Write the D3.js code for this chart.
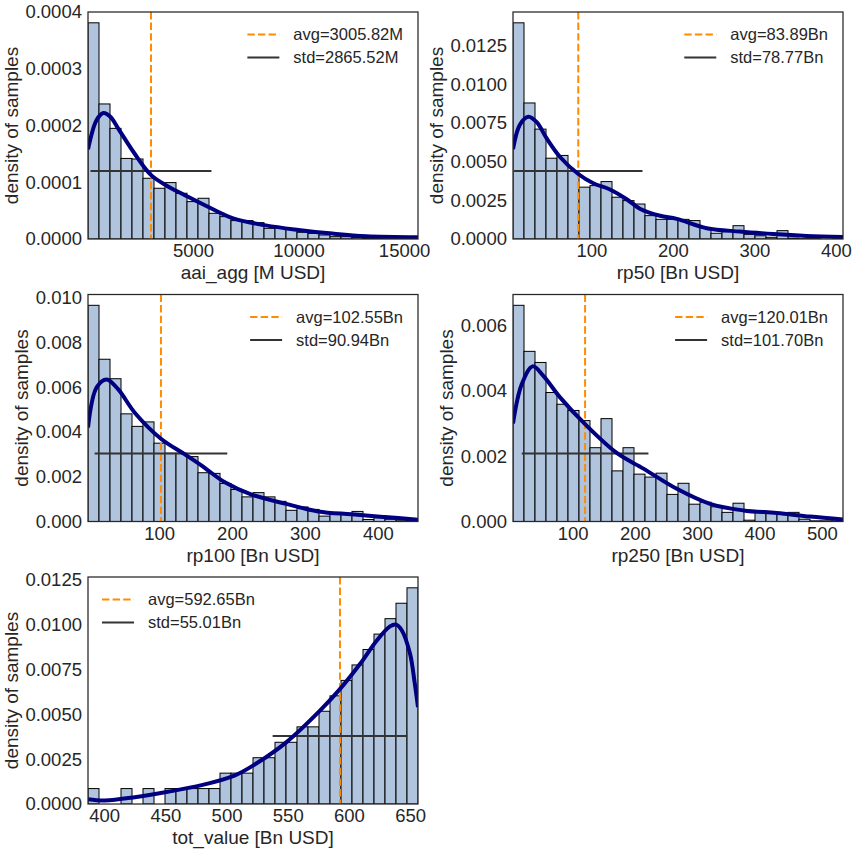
<!DOCTYPE html>
<html>
<head>
<meta charset="utf-8">
<script src="https://cdn.jsdelivr.net/npm/d3@7"></script>
<style>
  body { margin: 0; background: #fff; }
  svg { display: block; }
  text { font-family: "Liberation Sans", Arial, sans-serif; fill: #262626; }
</style>
</head>
<body>
<div id="chart"></div>
<script>
// ---- data ----
const axisLabels = ["aai_agg [M USD]", "rp50 [Bn USD]", "rp100 [Bn USD]", "rp250 [Bn USD]", "tot_value [Bn USD]"];
const xRanges = [[20, 15660], [3.8, 408.7], [2.5, 455], [4.3, 534], [386.8, 656.4]];
const avgValues = [3005.82, 83.89, 102.55, 120.01, 592.65];
const stdValues = [2865.52, 78.77, 90.94, 101.70, 55.01];
const valueUnits = ["M", "Bn", "Bn", "Bn", "Bn"];
const legendCorner = ["right", "right", "right", "right", "left"];

const aaiBars = [0.000381, 0.000238, 0.000195, 0.000142, 0.000141, 0.000107, 0.0000894, 0.0000994, 0.0000806, 0.0000659,
  0.0000718, 0.0000453, 0.0000394, 0.0000324, 0.0000324, 0.0000288, 0.0000188, 0.00002, 0.0000176, 0.0000118,
  0.00001, 0.0000071, 0.0000041, 0.0000041, 0.0000029, 0.0000018, 0.0000018, 0.0000018, 0.0000012, 0.0000012];
const rp50Bars = [0.01397, 0.00879, 0.0071, 0.00522, 0.0054, 0.0044, 0.00335, 0.00345, 0.00371, 0.0027,
  0.00248, 0.00226, 0.00151, 0.00127, 0.00127, 0.00127, 0.00119, 0.00073, 0.00037, 0.00058,
  0.00086, 0.0003, 0.00021, 0.00011, 0.00054, 0.00006, 0.00002, 0.00002, 0, 0.00002];
const rp100Bars = [0.00966, 0.00725, 0.00638, 0.00481, 0.00425, 0.00445, 0.0035, 0.00305, 0.00305, 0.0029,
  0.00218, 0.00215, 0.0017, 0.00143, 0.0011, 0.00129, 0.0011, 0.0009, 0.0005, 0.00065,
  0.00054, 0.00024, 0.00032, 0.00032, 0.00045, 0.00009, 0.00017, 0.0001, 0.00006, 0.000045];
const rp250Bars = [0.00662, 0.00521, 0.00487, 0.00395, 0.00359, 0.0034, 0.00309, 0.00226, 0.00315, 0.00155,
  0.00226, 0.00145, 0.00136, 0.00148, 0.00083, 0.00117, 0.00053, 0.00059, 0.00045, 0.00028,
  0.00056, 0.00004, 0.00033, 0.00025, 0.00023, 0.00028, 0.00007, 0.00002, 0.00002, 0.00002];
const totBars = [0.00086, 0, 0, 0.00086, 0, 0.00086, 0, 0.00086, 0.00086, 0.00086,
  0.00086, 0.00086, 0.00172, 0.00172, 0.00172, 0.00258, 0.00258, 0.00344, 0.00344, 0.0043,
  0.0043, 0.00517, 0.00603, 0.00689, 0.00775, 0.00861, 0.00947, 0.01033, 0.01119, 0.01205];

const aaiKde = [[20, 0.000158], [434, 0.00021], [750, 0.000222], [1066, 0.000216], [1500, 0.000192], [2200, 0.000152],
  [3000, 0.000113], [3750, 0.000094], [4700, 0.0000755], [5800, 0.000055], [6900, 0.0000365], [8450, 0.000024],
  [10000, 0.000016], [11600, 0.0000095], [13200, 0.0000047], [15660, 0.000003]];
const rp50Kde = [[3.8, 0.0058], [12.4, 0.0074], [22.6, 0.0079], [32.9, 0.00755], [45.1, 0.0065], [61.5, 0.0053],
  [83.9, 0.0042], [102.3, 0.0036], [122.8, 0.0032], [143.3, 0.00257], [160, 0.00194], [184.2, 0.0015],
  [204.7, 0.0013], [241.5, 0.0007], [282, 0.00048], [323, 0.00032], [364, 0.0002], [408.7, 0.00013]];
const rp100Kde = [[2.5, 0.0042], [14.4, 0.006], [28.1, 0.00635], [44, 0.0059], [66.9, 0.00485], [102.5, 0.0037],
  [135.4, 0.003], [158.3, 0.0025], [190.2, 0.00175], [226.8, 0.0012], [272.5, 0.0008], [318.1, 0.00045],
  [363.9, 0.00032], [409.5, 0.0002], [455, 0.00008]];
const rp250Kde = [[4.3, 0.003], [18.3, 0.0042], [35.9, 0.00475], [53, 0.00446], [79.8, 0.0038], [120, 0.00298],
  [170.8, 0.0021], [213.6, 0.00162], [267.2, 0.001], [320.6, 0.00054], [374, 0.00034], [427.7, 0.00026],
  [481, 0.00015], [534, 0.00006]];
const totKde = [[386.8, 0.00027], [400.6, 0.0002], [425, 0.00038], [452, 0.00068], [479.6, 0.00105], [506.9, 0.0016],
  [523, 0.0022], [549, 0.00345], [576.3, 0.0052], [592.6, 0.0064], [609, 0.0078], [622.6, 0.0091],
  [633.5, 0.0099], [638.5, 0.01], [643, 0.0097], [649.8, 0.0084], [653.6, 0.0068], [656.4, 0.0054]];

const xTickValues = [[5000, 10000, 15000], [100, 200, 300, 400], [100, 200, 300, 400], [100, 200, 300, 400, 500],
  [400, 450, 500, 550, 600, 650]];
const yTickValues = [[0, 0.0001, 0.0002, 0.0003, 0.0004], [0, 0.0025, 0.005, 0.0075, 0.01, 0.0125],
  [0, 0.002, 0.004, 0.006, 0.008, 0.01], [0, 0.002, 0.004, 0.006], [0, 0.0025, 0.005, 0.0075, 0.01, 0.0125]];
const yTickDecimals = [4, 4, 3, 3, 4];

const barSets = [aaiBars, rp50Bars, rp100Bars, rp250Bars, totBars];
const kdeSets = [aaiKde, rp50Kde, rp100Kde, rp250Kde, totKde];

// ---- layout ----
const width = 856, height = 856;
const colX = [88, 513], rowY = [12, 294.5, 577];
const pw = 330, ph = 227;
const ink = "#262626";

const svg = d3.select("#chart").append("svg").attr("width", width).attr("height", height);
svg.append("rect").attr("width", width).attr("height", height).attr("fill", "#fff");

barSets.forEach((bars, i) => {
  const left = colX[i % 2], top = rowY[Math.floor(i / 2)];
  const g = svg.append("g").attr("transform", `translate(${left},${top})`);
  const xr = xRanges[i];
  const xScale = d3.scaleLinear().domain(xr).range([0, pw]);
  const yScale = d3.scaleLinear().domain([0, d3.max(bars) * 1.05]).range([ph, 0]);
  const step = (xr[1] - xr[0]) / bars.length;

  const clipId = `clip${i}`;
  g.append("clipPath").attr("id", clipId).append("rect").attr("width", pw).attr("height", ph);
  const plot = g.append("g").attr("clip-path", `url(#${clipId})`);

  plot.selectAll("rect.bar").data(bars).join("rect").attr("class", "bar")
    .attr("x", (d, k) => xScale(xr[0] + k * step))
    .attr("width", (d, k) => xScale(xr[0] + (k + 1) * step) - xScale(xr[0] + k * step))
    .attr("y", (d) => yScale(d))
    .attr("height", (d) => ph - yScale(d))
    .attr("fill", "#b0c4de").attr("stroke", "#000").attr("stroke-width", 1);

  // average line
  plot.append("line")
    .attr("x1", xScale(avgValues[i])).attr("x2", xScale(avgValues[i]))
    .attr("y1", 0).attr("y2", ph)
    .attr("stroke", "#ff8c00").attr("stroke-width", 2).attr("stroke-dasharray", "7.4,3.2");

  // std line, drawn at 30% of the y range
  const stdY = yScale(yScale.domain()[1] * 0.3);
  plot.append("line")
    .attr("x1", xScale(avgValues[i] - stdValues[i])).attr("x2", xScale(avgValues[i] + stdValues[i]))
    .attr("y1", stdY).attr("y2", stdY)
    .attr("stroke", "#333").attr("stroke-width", 2);

  const line = d3.line().x((d) => xScale(d[0])).y((d) => yScale(d[1])).curve(d3.curveCatmullRom.alpha(0.5));
  plot.append("path").datum(kdeSets[i]).attr("fill", "none").attr("stroke", "#000080")
    .attr("stroke-width", 4).attr("stroke-linejoin", "round").attr("d", line);

  // axes
  const fmt = d3.format(`.${yTickDecimals[i]}f`);
  const xAxis = g.append("g").attr("transform", `translate(0,${ph})`)
    .call(d3.axisBottom(xScale).tickValues(xTickValues[i]).tickSize(0).tickPadding(5).tickFormat(d3.format("d")));
  const yAxis = g.append("g")
    .call(d3.axisLeft(yScale).tickValues(yTickValues[i]).tickSize(0).tickPadding(6).tickFormat(fmt));
  [xAxis, yAxis].forEach((a) => {
    a.select(".domain").remove();
    a.attr("font-family", null).attr("font-size", null);
    a.selectAll("text").attr("font-size", 18.5).attr("fill", ink);
  });

  g.append("rect").attr("width", pw).attr("height", ph)
    .attr("fill", "none").attr("stroke", ink).attr("stroke-width", 1.25);

  g.append("text").attr("x", pw / 2).attr("y", ph + 40).attr("text-anchor", "middle")
    .attr("font-size", 19).text(axisLabels[i]);

  let tickW = 0;
  yAxis.selectAll("text").each(function () { tickW = Math.max(tickW, this.getComputedTextLength()); });
  const ylx = -6 - tickW - 14;
  g.append("text").attr("transform", `translate(${ylx},${ph / 2}) rotate(-90)`)
    .attr("text-anchor", "middle").attr("dy", "0.35em").attr("font-size", 19).text("density of samples");

  // legend
  const labels = [`avg=${avgValues[i].toFixed(2)}${valueUnits[i]}`, `std=${stdValues[i].toFixed(2)}${valueUnits[i]}`];
  const leg = g.append("g");
  const texts = leg.selectAll("text").data(labels).join("text")
    .attr("y", (d, k) => 22.5 + k * 23).attr("dy", "0.35em").attr("font-size", 16.5).text((d) => d);
  let textW = 0;
  texts.each(function () { textW = Math.max(textW, this.getComputedTextLength()); });
  const textX = legendCorner[i] === "right" ? pw - 15 - textW : 14 + 32 + 14;
  texts.attr("x", textX);
  const lx = textX - 46;
  leg.append("line").attr("x1", lx).attr("x2", lx + 32).attr("y1", 22.5).attr("y2", 22.5)
    .attr("stroke", "#ff8c00").attr("stroke-width", 2).attr("stroke-dasharray", "7.4,3.2");
  leg.append("line").attr("x1", lx).attr("x2", lx + 32).attr("y1", 45.5).attr("y2", 45.5)
    .attr("stroke", "#333").attr("stroke-width", 2);
});
</script>
</body>
</html>
